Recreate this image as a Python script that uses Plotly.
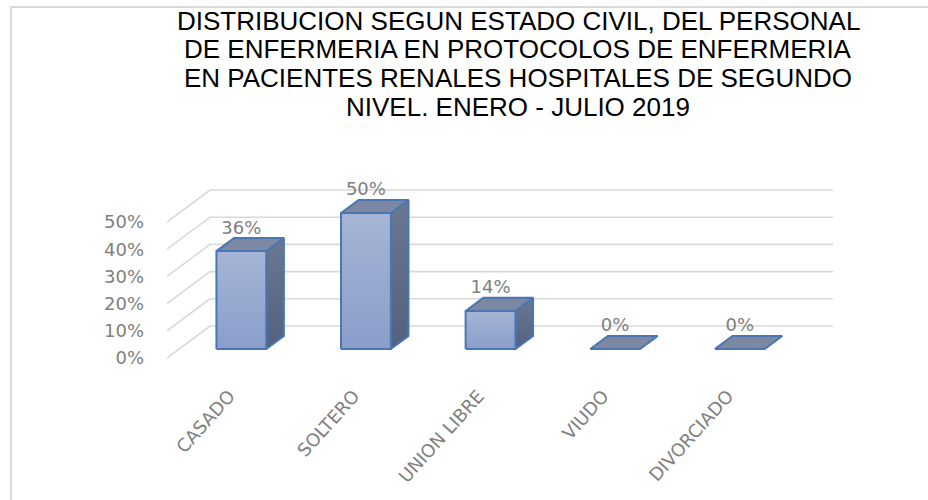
import plotly.graph_objects as go

# ---------------- data ----------------
categories = ["CASADO", "SOLTERO", "UNION LIBRE", "VIUDO", "DIVORCIADO"]
values = [36, 50, 14, 0, 0]
value_labels = ["36%", "50%", "14%", "0%", "0%"]
tick_values = [0, 10, 20, 30, 40, 50]
tick_labels = ["0%", "10%", "20%", "30%", "40%", "50%"]
title_lines = [
    "DISTRIBUCION SEGUN ESTADO CIVIL, DEL PERSONAL",
    "DE ENFERMERIA EN PROTOCOLOS DE ENFERMERIA",
    "EN PACIENTES RENALES HOSPITALES DE SEGUNDO",
    "NIVEL. ENERO - JULIO 2019",
]

# ---------------- geometry (pixels) ----------------
W, H = 928, 500
PL = 167          # left edge of front plane
CAT_PX = 124.6    # width of one category
DEPTH_X_PX = 43   # oblique depth offset, x
DEPTH_Y_PX = 32   # oblique depth offset, y
PCT_PX = 2.72     # pixels per 1 %
ZERO_PX = 358     # pixel row of 0 % on the front plane
PT, PB = 150, 381 # plot area top / bottom
n = len(categories)
PR = PL + n * CAT_PX + DEPTH_X_PX

DX = DEPTH_X_PX / CAT_PX
DY = DEPTH_Y_PX / PCT_PX
y_lo = (ZERO_PX - PB) / PCT_PX
y_hi = (ZERO_PX - PT) / PCT_PX

BAR_W = 0.40
D0, D1 = 0.28, 0.69


def proj(cx, v, d):
    return cx + d * DX, v + d * DY


def poly(points):
    xs, ys = [], []
    for p in points + [points[0]]:
        x, y = proj(*p)
        xs.append(x)
        ys.append(y)
    return xs, ys


GRID = "#d9d9d9"
EDGE = "#4a76b2"
TXT = "#808080"

fig = go.Figure()

# gridlines: left wall diagonals + back wall horizontals
gx, gy = [], []
for t in tick_values:
    for p in [(0, t, 0), (0, t, 1), (n, t, 1)]:
        x, y = proj(*p)
        gx.append(x)
        gy.append(y)
    gx.append(None)
    gy.append(None)
fig.add_trace(go.Scatter(x=gx, y=gy, mode="lines", line=dict(color=GRID, width=1.6),
                         hoverinfo="skip", showlegend=False))

# bars
for i, v in enumerate(values):
    c = i + 0.5
    xl, xr = c - BAR_W / 2, c + BAR_W / 2
    if v > 0:
        sx, sy = poly([(xr, 0, D0), (xr, 0, D1), (xr, v, D1), (xr, v, D0)])
        fig.add_trace(go.Scatter(x=sx, y=sy, mode="lines", fill="toself",
                                 fillgradient=dict(type="vertical",
                                                   colorscale=[[0, "#52617e"], [1, "#6b7892"]]),
                                 line=dict(color=EDGE, width=2), hoverinfo="skip", showlegend=False))
        fx, fy = poly([(xl, 0, D0), (xr, 0, D0), (xr, v, D0), (xl, v, D0)])
        fig.add_trace(go.Scatter(x=fx, y=fy, mode="lines", fill="toself",
                                 fillgradient=dict(type="vertical",
                                                   colorscale=[[0, "#8a9ecb"], [1, "#a5b5d5"]]),
                                 line=dict(color=EDGE, width=2), hoverinfo="skip", showlegend=False))
    tx, ty = poly([(xl, v, D0), (xr, v, D0), (xr, v, D1), (xl, v, D1)])
    fig.add_trace(go.Scatter(x=tx, y=ty, mode="lines", fill="toself", fillcolor="#7c88a3",
                             line=dict(color=EDGE, width=2), hoverinfo="skip", showlegend=False))

# data labels
lx, ly = [], []
for i, v in enumerate(values):
    x, y = proj(i + 0.5, v, D0)
    lx.append(x)
    ly.append(v + D1 * DY)
fig.add_trace(go.Scatter(x=lx, y=ly, mode="text", text=value_labels, textposition="top center",
                         textfont=dict(family="DejaVu Sans", size=18, color=TXT),
                         hoverinfo="skip", showlegend=False))

# title lines
title_y_px = [21, 49.5, 78, 106.5]
annotations = []
for line, yp in zip(title_lines, title_y_px):
    annotations.append(dict(text=line, xref="paper", yref="paper",
                            x=(518 - PL) / (PR - PL), y=(PB - yp) / (PB - PT),
                            xanchor="center", yanchor="middle", showarrow=False,
                            font=dict(family="Liberation Sans", size=26, color="#000000")))

fig.update_layout(
    width=W, height=H,
    margin=dict(l=PL, r=W - PR, t=PT, b=H - PB, pad=0, autoexpand=False),
    paper_bgcolor="white", plot_bgcolor="rgba(0,0,0,0)",
    annotations=annotations,
    shapes=[dict(type="rect", xref="paper", yref="paper",
                 x0=(11 - PL) / (PR - PL), x1=(W + 20 - PL) / (PR - PL),
                 y0=(PB - (H + 20)) / (PB - PT), y1=(PB - 7) / (PB - PT),
                 line=dict(color="#d9d9d9", width=2), layer="below")],
    xaxis=dict(range=[0, n + DX], tickvals=[i + 0.5 for i in range(n)], ticktext=categories,
               tickangle=-48, showgrid=False, zeroline=False, showline=False, ticks="",
               automargin=False,
               tickfont=dict(family="DejaVu Sans", size=18, color=TXT), fixedrange=True),
    yaxis=dict(range=[y_lo, y_hi], tickvals=tick_values, ticktext=tick_labels,
               showgrid=False, zeroline=False, showline=False, ticks="",
               ticklabelstandoff=22, automargin=False,
               tickfont=dict(family="DejaVu Sans", size=18, color=TXT), fixedrange=True),
    showlegend=False,
)

fig.write_html("out.html", config={"displayModeBar": False},
               post_script="document.body.style.margin='0px';document.body.style.overflow='hidden';")
